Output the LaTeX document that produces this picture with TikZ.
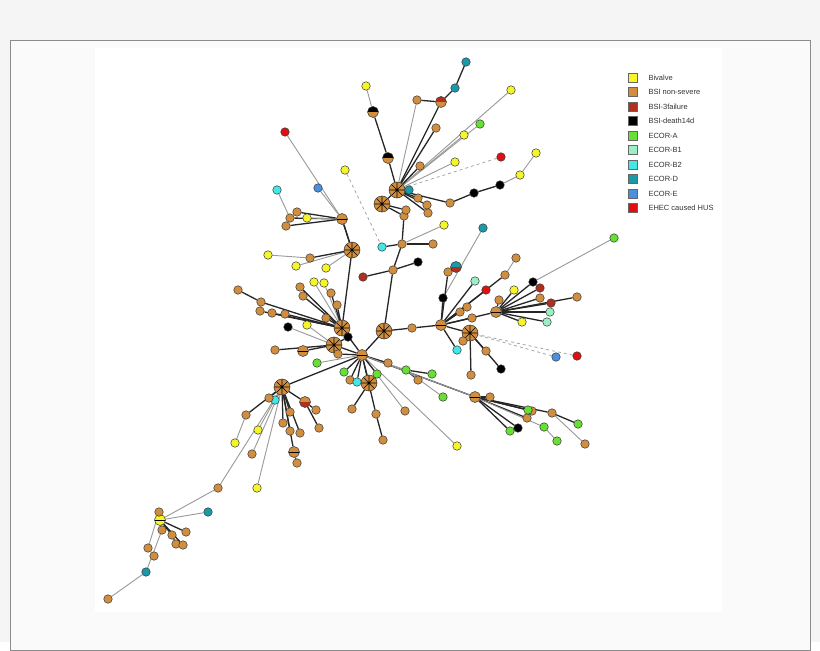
\documentclass[tikz,border=0pt]{standalone}
\usepackage{fontspec}
\setmainfont{Liberation Sans}
\definecolor{cY}{HTML}{F5F52A}\definecolor{cO}{HTML}{D08E3E}\definecolor{cR}{HTML}{B03020}
\definecolor{cK}{HTML}{000000}\definecolor{cA}{HTML}{66E033}\definecolor{cB}{HTML}{9CEFC4}
\definecolor{cC}{HTML}{40E8E8}\definecolor{cD}{HTML}{1A9AA8}\definecolor{cE}{HTML}{4A90E0}
\definecolor{cH}{HTML}{E01010}
\pgfdeclarelayer{back}\pgfdeclarelayer{bg}\pgfsetlayers{back,bg,main}
\tikzset{nd/.style={circle,draw=black!80,line width=0.5pt,inner sep=0pt,minimum size=8.5pt},
 big/.style={minimum size=16pt,path picture={\draw[black,line width=0.6pt]
 (path picture bounding box.north)--(path picture bounding box.south)
 (path picture bounding box.west)--(path picture bounding box.east)
 (path picture bounding box.north west)--(path picture bounding box.south east)
 (path picture bounding box.north east)--(path picture bounding box.south west);}},
 mid/.style={minimum size=11pt,path picture={\draw[black,line width=0.5pt]
 (path picture bounding box.west)--(path picture bounding box.east);}},
 half/.style={minimum size=11pt,path picture={\fill[#1]
 (path picture bounding box.north west) rectangle (path picture bounding box.east);}},
 ee/.style={draw=black!85,line width=1.3pt},
 gg/.style={draw=black!40,line width=0.9pt},
 dd/.style={draw=black!35,line width=0.8pt,dashed},
 lg/.style={draw=black!60,fill=#1,minimum size=9pt,inner sep=0pt},
 lt/.style={font=\fontsize{7.5}{8}\selectfont,anchor=west,text=black!80}}
\newcommand\nd[5][]{\node[nd,fill=#5,#1] (#2) at (#3,#4) {};}
\newcommand\E[3][ee]{\begin{pgfonlayer}{bg}\draw[#1] (#2)--(#3);\end{pgfonlayer}}
\begin{document}
\begin{tikzpicture}[x=1pt,y=-1pt]
\begin{pgfonlayer}{back}
\fill[black!4] (0,0) rectangle (820,642);
\fill[black!2,draw=black!45] (10,40) rectangle (810,650);
\fill[white] (95,48) rectangle (722,612);
\end{pgfonlayer}
\useasboundingbox (0,0) rectangle (820,642);
% hubs
\nd[mid]{H1}{362}{355}{cO}
\nd[big]{H2}{384}{331}{cO}
\nd[big]{H3}{342}{328}{cO}
\nd[big]{H4}{334}{345}{cO}
\nd[big]{H5}{369}{383}{cO}
\nd[big]{H6}{397}{190}{cO}
\nd[big]{H7}{382}{204}{cO}
\nd[big]{H8}{352}{250}{cO}
\nd[mid]{H9}{342}{219}{cO}
\nd[mid]{H10}{441}{325}{cO}
\nd[big]{H11}{470}{333}{cO}
\nd[mid]{H12}{496}{312}{cO}
\nd[big]{H13}{282}{387}{cO}
\nd[half=cO]{H14}{305}{402}{cR}
\nd[mid]{H15}{475}{397}{cO}
\nd[mid]{H16}{160}{520}{cY}
\nd[mid]{H17}{294}{452}{cO}
% top
\nd{t1}{466}{62}{cD}\nd{t2}{455}{88}{cD}\nd[half=cR]{t3}{441}{102}{cO}\nd{t4}{436}{128}{cO}
\nd{t5}{417}{100}{cO}\nd[half=cK]{t6}{373}{112}{cO}\nd{t7}{366}{86}{cY}\nd[half=cK]{t8}{388}{158}{cO}
\nd{t9}{511}{90}{cY}\nd{t10}{480}{124}{cA}\nd{t11}{464}{135}{cY}\nd{t12}{455}{162}{cY}
\nd{t13}{420}{166}{cO}\nd{t14}{409}{190}{cD}\nd{t15}{418}{198}{cO}\nd{t16}{427}{205}{cO}
\nd{t17}{428}{213}{cO}\nd{t18}{536}{153}{cY}\nd{t19}{520}{175}{cY}\nd{t20}{500}{185}{cK}
\nd{t21}{474}{193}{cK}\nd{t22}{450}{203}{cO}\nd{t23}{501}{157}{cH}\nd{t24}{404}{216}{cO}
\nd{t25}{402}{244}{cO}\nd{t26}{433}{244}{cO}\nd{t27}{444}{225}{cY}\nd{t28}{382}{247}{cC}
\nd{t29}{393}{270}{cO}\nd{t30}{418}{262}{cK}\nd{t31}{363}{277}{cR}\nd{t32}{345}{170}{cY}
\nd{t33}{483}{228}{cD}\nd{t34}{406}{210}{cO}
% upper left
\nd{u1}{285}{132}{cH}\nd{u2}{318}{188}{cE}\nd{u3}{277}{190}{cC}\nd{u4}{290}{218}{cO}
\nd{u5}{297}{212}{cO}\nd{u6}{286}{226}{cO}\nd{u7}{307}{218}{cY}\nd{u8}{268}{255}{cY}
\nd{u9}{296}{266}{cY}\nd{u10}{310}{258}{cO}\nd{u11}{326}{268}{cY}\nd{u12}{300}{287}{cO}
\nd{u13}{303}{296}{cO}\nd{u14}{314}{282}{cY}\nd{u15}{324}{283}{cY}\nd{u16}{331}{293}{cO}
\nd{u17}{238}{290}{cO}\nd{u18}{261}{302}{cO}\nd{u19}{260}{311}{cO}\nd{u20}{272}{313}{cO}
\nd{u21}{285}{314}{cO}\nd{u22}{288}{327}{cK}\nd{u23}{307}{325}{cY}\nd{u24}{326}{318}{cO}
\nd{u25}{348}{337}{cK}\nd{u26}{275}{350}{cO}\nd[mid]{u27}{303}{351}{cO}\nd{u28}{317}{363}{cA}
\nd{u29}{337}{305}{cO}
% bottom center
\nd{b1}{344}{372}{cA}\nd{b2}{350}{380}{cO}\nd{b3}{357}{382}{cC}\nd{b4}{352}{409}{cO}
\nd{b5}{376}{414}{cO}\nd{b6}{383}{440}{cO}\nd{b7}{405}{411}{cO}\nd{b8}{457}{446}{cY}
\nd{b9}{406}{370}{cA}\nd{b10}{432}{374}{cA}\nd{b11}{418}{380}{cO}\nd{b12}{443}{397}{cA}
\nd{b13}{377}{374}{cA}\nd{b14}{388}{363}{cO}\nd{b15}{338}{354}{cO}
% right
\nd{r1}{412}{328}{cO}\nd{r2}{443}{298}{cK}\nd{r3}{448}{272}{cO}\nd[half=cD]{r4}{456}{267}{cR}
\nd{r5}{475}{281}{cB}\nd{r6}{486}{290}{cH}\nd{r7}{505}{275}{cO}\nd{r8}{516}{258}{cO}
\nd{r9}{533}{282}{cK}\nd{r10}{540}{288}{cR}\nd{r11}{514}{290}{cY}\nd{r12}{499}{300}{cO}
\nd{r13}{522}{322}{cY}\nd{r14}{547}{322}{cB}\nd{r15}{550}{312}{cB}\nd{r16}{551}{303}{cR}
\nd{r17}{577}{297}{cO}\nd{r18}{614}{238}{cA}\nd{r19}{457}{350}{cC}\nd{r20}{463}{341}{cO}
\nd{r21}{471}{375}{cO}\nd{r22}{501}{369}{cK}\nd{r23}{486}{351}{cO}\nd{r24}{556}{357}{cE}
\nd{r25}{577}{356}{cH}\nd{r26}{467}{307}{cO}\nd{r27}{472}{318}{cO}\nd{r28}{540}{298}{cO}
\nd{r29}{460}{312}{cO}
% right lower
\nd{s1}{490}{397}{cO}\nd{s2}{510}{431}{cA}\nd{s3}{518}{428}{cK}\nd{s4}{527}{418}{cO}
\nd{s5}{532}{411}{cO}\nd{s6}{552}{413}{cO}\nd{s7}{544}{427}{cA}\nd{s8}{557}{441}{cA}
\nd{s9}{578}{424}{cA}\nd{s10}{585}{444}{cO}\nd{s11}{528}{410}{cA}
% left lower
\nd{l1}{275}{400}{cC}\nd{l2}{283}{423}{cO}\nd{l3}{290}{431}{cO}\nd{l4}{300}{433}{cO}
\nd{l5}{319}{428}{cO}\nd{l6}{316}{410}{cO}\nd{l7}{246}{415}{cO}\nd{l8}{258}{430}{cY}
\nd{l9}{235}{443}{cY}\nd{l10}{252}{454}{cO}\nd{l11}{297}{463}{cO}\nd{l12}{257}{488}{cY}
\nd{l13}{218}{488}{cO}\nd{l14}{290}{412}{cO}\nd{l15}{269}{398}{cO}
% far lower-left
\nd{f1}{159}{512}{cO}\nd{f2}{162}{530}{cO}\nd{f3}{172}{535}{cO}\nd{f4}{176}{544}{cO}
\nd{f5}{183}{545}{cO}\nd{f6}{186}{532}{cO}\nd{f7}{148}{548}{cO}\nd{f8}{154}{556}{cO}
\nd{f9}{208}{512}{cD}\nd{f10}{146}{572}{cD}\nd{f11}{108}{599}{cO}
% edges
\E{H1}{H2}\E{H1}{H3}\E{H1}{H4}\E{H1}{H5}\E{H2}{t29}\E{t29}{t25}\E{t25}{t24}\E{t24}{H7}
\E{H7}{H6}\E{H2}{r1}\E{r1}{H10}\E{H10}{H11}\E{H10}{H12}\E{H1}{H13}\E{H13}{H14}\E{H1}{H15}
\E{H3}{H8}\E{H8}{H9}\E{H13}{H17}
\E{t1}{t2}\E{t2}{t3}\E{t3}{H6}\E{t4}{H6}\E[gg]{t5}{H6}\E{t6}{t8}\E[gg]{t7}{t6}\E{t8}{H6}
\E[gg]{t9}{H6}\E[gg]{t10}{H6}\E[gg]{t11}{H6}\E[gg]{t12}{H6}\E{t13}{H6}\E{t14}{H6}
\E{t15}{H6}\E{t16}{H6}\E{t17}{H6}\E[gg]{t18}{t19}\E[gg]{t19}{t20}\E{t20}{t21}\E{t21}{t22}\E{t22}{H6}
\E[dd]{t23}{H6}\E{t34}{H7}\E{t26}{t25}\E[gg]{t27}{t25}\E{t28}{t25}\E{t30}{t29}\E{t31}{t29}
\E[dd]{t32}{t28}\E[gg]{t33}{r2}\E{t3}{t5}
\E[gg]{u1}{H9}\E[gg]{u2}{H9}\E[gg]{u3}{u4}\E{u4}{H9}\E{u5}{H9}\E{u6}{H9}\E[gg]{u7}{H9}
\E[gg]{u8}{u10}\E[gg]{u9}{H8}\E{u10}{H8}\E[gg]{u11}{H8}\E{u12}{H3}\E{u13}{H3}\E[gg]{u14}{H3}
\E[gg]{u15}{H3}\E{u16}{H3}\E{u17}{u18}\E{u18}{H3}\E{u19}{H3}\E{u20}{H3}\E{u21}{H3}
\E[gg]{u22}{H4}\E[gg]{u23}{H4}\E{u24}{H3}\E{u25}{H4}\E{u26}{H4}\E{u27}{H4}\E[gg]{u28}{H1}
\E{u29}{H3}\E{H9}{H8}
\E{b1}{H1}\E{b2}{H1}\E{b3}{H1}\E{b4}{H5}\E{b5}{H1}\E{b6}{b5}\E[gg]{b7}{H1}\E[gg]{b8}{H1}
\E[gg]{b9}{H1}\E{b9}{b10}\E{b9}{b11}\E[gg]{b12}{b9}\E{b13}{H1}\E{b14}{H1}\E{b15}{H1}
\E{r2}{H10}\E{r3}{H10}\E{r4}{r3}\E{r5}{H10}\E{r6}{H10}\E[gg]{r7}{r8}\E{r7}{H10}\E{r9}{H12}
\E{r10}{H12}\E{r11}{H12}\E{r12}{H12}\E{r13}{H12}\E{r14}{H12}\E{r15}{H12}\E{r16}{H12}
\E{r17}{H12}\E[gg]{r18}{r9}\E{r19}{H10}\E{r20}{H11}\E{r21}{H11}\E{r22}{H11}\E{r23}{H11}
\E[dd]{r24}{H11}\E[dd]{r25}{H11}\E{r26}{H10}\E{r27}{H10}\E{r28}{H12}\E{r29}{H10}
\E[gg]{H15}{H1}\E{s1}{H15}\E{s2}{H15}\E{s3}{H15}\E{s4}{H15}\E{s5}{H15}\E{s6}{H15}
\E[gg]{s7}{H15}\E[gg]{s8}{s7}\E{s9}{s6}\E[gg]{s10}{s6}\E{s11}{H15}
\E{l1}{H13}\E{l2}{H13}\E{l3}{H13}\E{l4}{H13}\E{l5}{H14}\E{l6}{H14}\E{l7}{H13}\E[gg]{l8}{H13}
\E[gg]{l9}{l7}\E[gg]{l10}{H13}\E{l11}{H17}\E[gg]{l12}{H13}\E[gg]{l13}{H13}\E{l14}{H13}\E{l15}{H13}
\E{f1}{H16}\E{f2}{H16}\E{f3}{H16}\E{f4}{f3}\E{f5}{H16}\E{f6}{H16}
\E[gg]{f7}{f1}\E[gg]{f8}{f7}\E[gg]{f9}{H16}\E[gg]{f10}{f2}\E[gg]{f11}{f10}\E[gg]{H16}{l13}
% legend
\foreach \c/\t [count=\i] in {cY/Bivalve,cO/BSI non-severe,cR/BSI-3failure,cK/BSI-death14d,cA/ECOR-A,cB/ECOR-B1,cC/ECOR-B2,cD/ECOR-D,cE/ECOR-E,cH/EHEC caused HUS}{
 \node[lg=\c] (lg\i) at (633,63+14.5*\i) {};
 \node[lt] (lt\i) at (645,63+14.5*\i) {\t};}
\end{tikzpicture}
\end{document}
